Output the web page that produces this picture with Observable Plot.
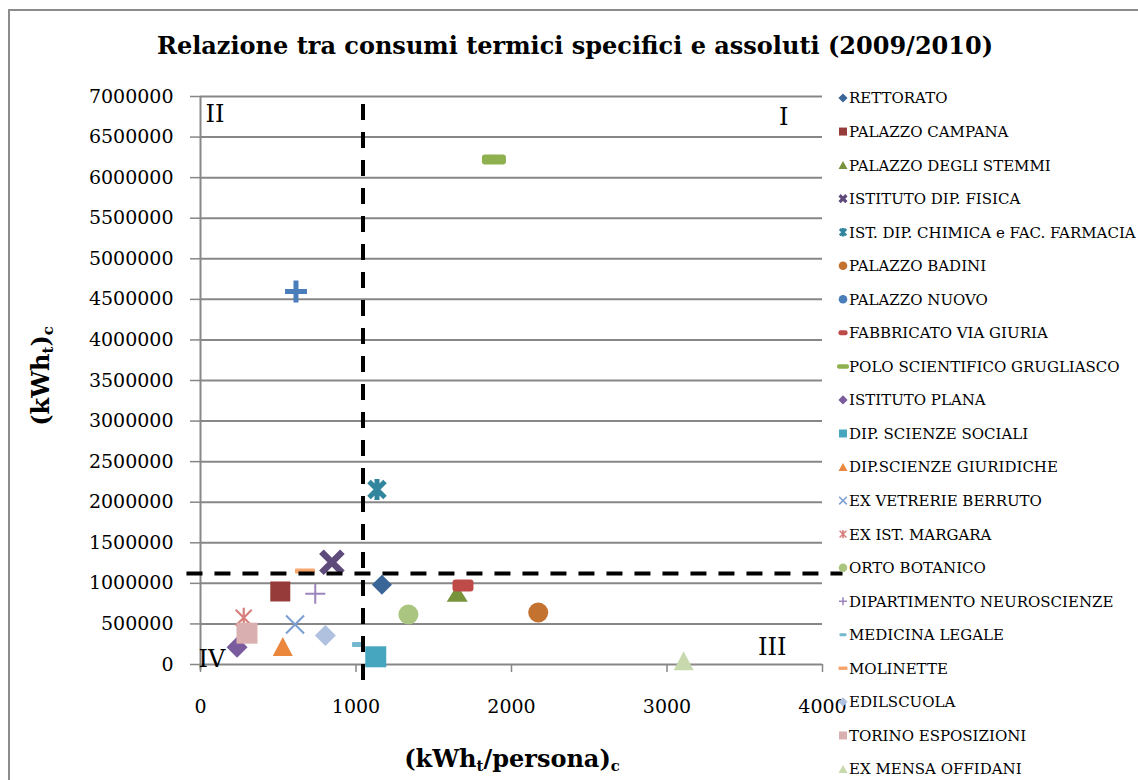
<!DOCTYPE html>
<html>
<head>
<meta charset="utf-8">
<script src="https://cdn.jsdelivr.net/npm/d3@7"></script>
<script src="https://cdn.jsdelivr.net/npm/@observablehq/plot@0.6"></script>
<style>
  body { margin: 0; background: #fff; }
  #chart {
    position: relative; width: 1138px; height: 780px; overflow: hidden;
    font-family: "Palatino Linotype", "Book Antiqua", Palatino, "DejaVu Serif", serif;
    color: #000;
  }
  #frame {
    position: absolute; left: 8px; top: 9px; width: 1300px; height: 1000px;
    border: 2px solid #8c8c8c; box-sizing: border-box;
  }
  #title {
    position: absolute; left: 0; width: 1150px; top: 31px;
    text-align: center; font-weight: bold; font-size: 24px; white-space: nowrap;
  }
  #plot { position: absolute; left: 0; top: 75px; }
  .axis-title {
    position: absolute; font-weight: bold; font-size: 24px; white-space: nowrap;
    transform: translate(-50%, -50%);
  }
  .axis-title.vertical { transform: translate(-50%, -50%) rotate(-90deg); }
  .axis-title sub { font-size: 0.62em; position: relative; top: 0.3em; vertical-align: baseline; }
  #legend { position: absolute; left: 0; top: 0; pointer-events: none; }
</style>
</head>
<body>
<div id="chart">
  <div id="frame"></div>
  <div id="title">Relazione tra consumi termici specifici e assoluti (2009/2010)</div>
  <div id="plot"></div>
  <div class="axis-title vertical" style="left:40px; top:376px;">(kWh<sub>t</sub>)<sub>c</sub></div>
  <div class="axis-title" style="left:512px; top:758px;">(kWh<sub>t</sub>/persona)<sub>c</sub></div>
  <svg id="legend" width="1138" height="780"></svg>
</div>
<script>
// Buildings of the university, 2009/2010 heating season
const buildings = [
  "RETTORATO",
  "PALAZZO CAMPANA",
  "PALAZZO DEGLI STEMMI",
  "ISTITUTO DIP. FISICA",
  "IST. DIP. CHIMICA e FAC. FARMACIA",
  "PALAZZO BADINI",
  "PALAZZO NUOVO",
  "FABBRICATO VIA GIURIA",
  "POLO SCIENTIFICO  GRUGLIASCO",
  "ISTITUTO PLANA",
  "DIP. SCIENZE SOCIALI",
  "DIP.SCIENZE GIURIDICHE",
  "EX VETRERIE BERRUTO",
  "EX IST. MARGARA",
  "ORTO BOTANICO",
  "DIPARTIMENTO NEUROSCIENZE",
  "MEDICINA LEGALE",
  "MOLINETTE",
  "EDILSCUOLA",
  "TORINO ESPOSIZIONI",
  "EX MENSA OFFIDANI"
];

// specific consumption, kWh_t per person
const specific = [1167, 513, 1651, 845, 1135, 2172, 614, 1688, 1887, 235,
                  1127, 529, 608, 278, 1337, 738, 1013, 672, 803, 299, 3107];

// absolute consumption, kWh_t
const absolute = [982000, 900000, 879000, 1261000, 2157000, 641000, 4597000, 974000, 6224000, 213000,
                  95000, 222000, 493000, 575000, 616000, 871000, 246000, 1152000, 357000, 386000, 46000];

// reference thresholds splitting the plane into quadrants
const thresholdSpecific = 1045;
const thresholdAbsolute = 1120000;

const yTicks = [0, 500000, 1000000, 1500000, 2000000, 2500000, 3000000, 3500000,
                4000000, 4500000, 5000000, 5500000, 6000000, 6500000, 7000000];
const xTicks = [0, 1000, 2000, 3000, 4000];
const quadrantLabels = ["I", "II", "III", "IV"];

// ---- styling ----
const colors = [
  "#3A6597", "#963B39", "#77933C", "#5F4A7C", "#31859C", "#C4722F", "#4A7EBB",
  "#BE4B48", "#8EB04E", "#7A5C9E", "#46A6C0", "#EA873D", "#7B9ED2", "#D7807D",
  "#A9C57F", "#9B85BC", "#74B9D0", "#F7A66E", "#AFC1DE", "#DAAFAF", "#C8D9AD"
];

// [shape, dimensions..., stroke width] for the plotted markers
const chartMarkers = [
  ["diamond", 10], ["square", 20], ["triangle", 21, 17], ["cross", 10.5, 6.5],
  ["star", 8, 10.5, 5], ["circle", 10], ["plus", 11, 5], ["dash", 21, 12, 3],
  ["dash", 24, 10, 3], ["diamond", 10.5], ["square", 21], ["triangle", 20, 19],
  ["cross", 9, 2], ["star", 8, 10, 2.2], ["circle", 10], ["plus", 10, 2],
  ["dash", 12, 5, 1], ["dash", 20, 5, 1], ["diamond", 10.5], ["square", 21],
  ["triangle", 20, 19]
];

// smaller markers used in the legend
const legendMarkers = [
  ["diamond", 4.6], ["square", 8], ["triangle", 9, 8], ["cross", 3.4, 3.2],
  ["star", 3.2, 4.2, 2.6], ["circle", 4.3], ["circle", 4.3], ["dash", 9, 5, 2],
  ["dash", 12, 4.5, 2], ["diamond", 4.6], ["square", 8], ["triangle", 9, 8],
  ["cross", 3.8, 1.5], ["star", 3.4, 4.2, 1.6], ["circle", 4.3], ["plus", 4, 1.5],
  ["dash", 7, 3, 1], ["dash", 9, 3.5, 1], ["diamond", 4.6], ["square", 8],
  ["triangle", 9, 8]
];

// symbol objects in the d3 symbol-type shape: {draw(context, size)}
function makeSymbol([kind, a, b, c]) {
  switch (kind) {
    case "diamond":
      return {filled: true, symbol: {draw(p) { p.moveTo(0, -a); p.lineTo(a, 0); p.lineTo(0, a); p.lineTo(-a, 0); p.closePath(); }}};
    case "square":
      return {filled: true, symbol: {draw(p) { p.rect(-a / 2, -a / 2, a, a); }}};
    case "triangle":
      return {filled: true, symbol: {draw(p) { p.moveTo(0, -b / 2); p.lineTo(a / 2, b / 2); p.lineTo(-a / 2, b / 2); p.closePath(); }}};
    case "circle":
      return {filled: true, symbol: {draw(p) { p.moveTo(a, 0); p.arc(0, 0, a, 0, 2 * Math.PI); p.closePath(); }}};
    case "dash": {
      const w = a / 2, h = b / 2, r = Math.min(c, h);
      return {filled: true, symbol: {draw(p) {
        p.moveTo(-w + r, -h); p.lineTo(w - r, -h); p.arcTo(w, -h, w, -h + r, r);
        p.lineTo(w, h - r); p.arcTo(w, h, w - r, h, r);
        p.lineTo(-w + r, h); p.arcTo(-w, h, -w, h - r, r);
        p.lineTo(-w, -h + r); p.arcTo(-w, -h, -w + r, -h, r); p.closePath();
      }}};
    }
    case "cross":
      return {filled: false, width: b, symbol: {draw(p) { p.moveTo(-a, -a); p.lineTo(a, a); p.moveTo(a, -a); p.lineTo(-a, a); }}};
    case "plus":
      return {filled: false, width: b, symbol: {draw(p) { p.moveTo(-a, 0); p.lineTo(a, 0); p.moveTo(0, -a); p.lineTo(0, a); }}};
    case "star":
      return {filled: false, width: c, symbol: {draw(p) {
        p.moveTo(-a, -a); p.lineTo(a, a); p.moveTo(a, -a); p.lineTo(-a, a);
        p.moveTo(0, -b); p.lineTo(0, b);
      }}};
  }
}

const rows = buildings.map((name, i) => ({name, specific: specific[i], absolute: absolute[i]}));

const pointMarks = rows.map((d, i) => {
  const m = makeSymbol(chartMarkers[i]);
  return Plot.dot([d], {
    x: "specific", y: "absolute", symbol: m.symbol, r: 5,
    fill: m.filled ? colors[i] : "none",
    stroke: m.filled ? "none" : colors[i],
    strokeWidth: m.width ?? 0
  });
});

const gridColor = "#878787";
const tickFont = 19;

const chart = Plot.plot({
  width: 1138,
  height: 705,
  marginLeft: 200,
  marginRight: 316,
  marginTop: 21,
  marginBottom: 116,
  style: {
    fontFamily: '"Palatino Linotype", "Book Antiqua", Palatino, "DejaVu Serif", serif',
    background: "transparent",
    overflow: "visible",
    color: "#000"
  },
  x: {domain: [0, 4000]},
  y: {domain: [0, 7000000]},
  marks: [
    Plot.gridY(yTicks, {stroke: gridColor, strokeOpacity: 1, strokeWidth: 2}),
    Plot.ruleX([0], {y1: -70000, y2: 7000000, stroke: gridColor, strokeWidth: 2}),
    Plot.axisY(yTicks, {
      tickSize: 10, tickPadding: 17, tickFormat: d => String(d), label: null,
      stroke: gridColor, strokeWidth: 1.5, fill: "#000", fontSize: tickFont
    }),
    Plot.axisX(xTicks, {
      tickSize: 8, tickPadding: 27, tickFormat: d => String(d), label: null,
      stroke: gridColor, strokeWidth: 1.5, fill: "#000", fontSize: tickFont
    }),
    ...pointMarks,
    Plot.ruleX([thresholdSpecific], {
      y1: 6900000, y2: -200000, stroke: "#000", strokeWidth: 4, strokeDasharray: "16,12"
    }),
    Plot.ruleY([thresholdAbsolute], {
      x1: -87, x2: 4132, stroke: "#000", strokeWidth: 4, strokeDasharray: "16,12"
    }),
    // quadrant names
    Plot.text([quadrantLabels[1]], {text: d => d, frameAnchor: "top-left", textAnchor: "start", lineAnchor: "top", dx: 5, dy: 8, fontSize: 24}),
    Plot.text([quadrantLabels[0]], {text: d => d, frameAnchor: "top-right", textAnchor: "end", lineAnchor: "top", dx: -34, dy: 11, fontSize: 24}),
    Plot.text([quadrantLabels[2]], {text: d => d, frameAnchor: "bottom-right", textAnchor: "end", lineAnchor: "bottom", dx: -36, dy: -10, fontSize: 24}),
    Plot.text([quadrantLabels[3]], {text: d => d, frameAnchor: "bottom-left", textAnchor: "start", lineAnchor: "bottom", dx: -2, dy: 2, fontSize: 24})
  ]
});
document.getElementById("plot").appendChild(chart);

// legend on the right, one row per building
const legend = d3.select("#legend");
const rowTop = 98, rowStep = 33.55;
buildings.forEach((name, i) => {
  const cy = rowTop + i * rowStep;
  const m = makeSymbol(legendMarkers[i]);
  legend.append("path")
    .attr("transform", `translate(843,${cy})`)
    .attr("d", d3.symbol(m.symbol)())
    .attr("fill", m.filled ? colors[i] : "none")
    .attr("stroke", m.filled ? "none" : colors[i])
    .attr("stroke-width", m.width ?? 0);
  legend.append("text")
    .attr("x", 849)
    .attr("y", cy)
    .attr("dy", "0.36em")
    .attr("font-size", 15)
    .attr("font-family", '"Palatino Linotype", "Book Antiqua", Palatino, "DejaVu Serif", serif')
    .attr("fill", "#000")
    .text(name);
});
</script>
</body>
</html>
